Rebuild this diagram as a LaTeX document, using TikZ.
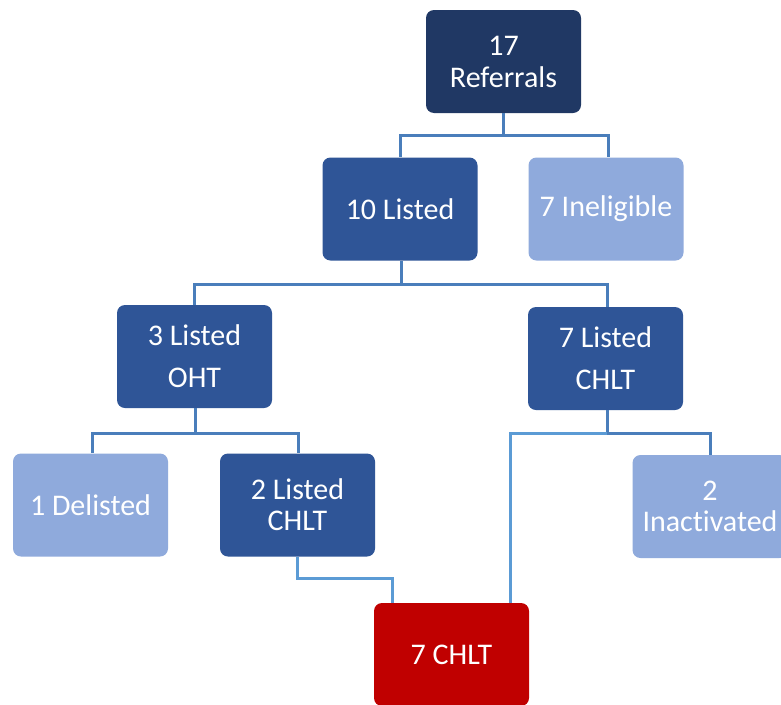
\documentclass[tikz,border=0pt]{standalone}
\usepackage{fontspec}
\setmainfont[Ligatures=NoCommon]{Carlito}
\definecolor{navy}{RGB}{32,56,100}
\definecolor{midblue}{RGB}{47,85,151}
\definecolor{lightblue}{RGB}{143,170,220}
\definecolor{darkred}{RGB}{192,0,0}
\definecolor{linea}{RGB}{74,126,187}
\definecolor{lineb}{RGB}{91,155,213}
\begin{document}
\begin{tikzpicture}[x=1pt,y=-1pt,
  box/.style={draw=none, rounded corners=8pt, minimum width=155pt, minimum height=103pt,
    inner sep=0pt, align=center, text=white, font=\fontsize{30}{31}\selectfont},
  dark/.style={box, fill=navy},
  mid/.style={box, fill=midblue},
  light/.style={box, fill=lightblue},
  red/.style={box, fill=darkred},
  conn/.style={draw=linea, line width=3pt},
  connb/.style={draw=lineb, line width=3pt}]
\useasboundingbox (0,0) rectangle (781,704);
\fill[white] (0,0) rectangle (781,704);

\node[dark]  (ref)   at (503.5,61.5) {17\\[1pt]Referrals};
\node[mid]   (l10)   at (400,209)   {10 Listed};
\node[light] (inel)  at (606,209)   {7 Ineligible};
\node[mid]   (oht)   at (194.5,356.5) {3 Listed\\[11pt]OHT};
\node[mid]   (l7)    at (605.5,358.5) {7 Listed\\[11pt]CHLT};
\node[light] (del)   at (90.5,505)  {1 Delisted};
\node[mid]   (l2)    at (297.5,505) {2 Listed\\CHLT};
\node[light] (inac)  at (710,506.5) {2\\Inactivated};
\node[red]   (chlt)  at (451.5,654.5) {7 CHLT};

% level 1
\draw[conn] (ref.south) -- ++(0,22) coordinate (b1) -| (l10.north);
\draw[conn] (b1) -| ([xshift=2pt]inel.north);
% level 2
\draw[conn] ([xshift=1pt]l10.south) -- ++(0,24) coordinate (b2) -| (oht.north);
\draw[conn] (b2) -| ([xshift=1.5pt]l7.north);
% level 3 left
\draw[conn] ([xshift=0.5pt]oht.south) -- ++(0,25) coordinate (b3) -| ([xshift=1.5pt]del.north);
\draw[conn] (b3) -| ([xshift=0.5pt]l2.north);
% level 3 right
\draw[conn] ([xshift=1.5pt]l7.south) -- ++(0,23) coordinate (b4) -| ([xshift=0pt]inac.north);
\draw[connb] (b4) -| ([xshift=58.5pt]chlt.north);
% to final
\draw[connb] (l2.south) -- ++(0,22) -| ([xshift=-59.5pt]chlt.north);
\end{tikzpicture}
\end{document}
